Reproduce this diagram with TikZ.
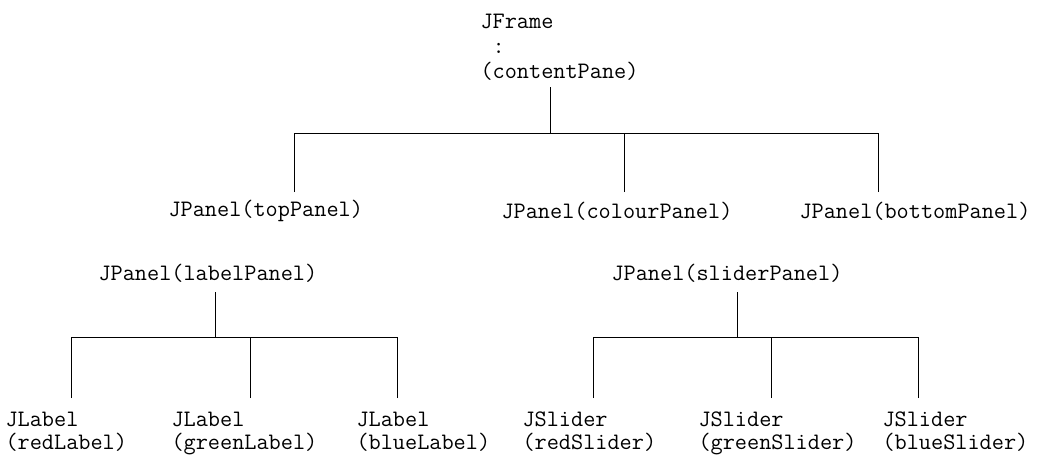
\documentclass[tikz,border=0pt]{standalone}
\usepackage{fontspec}
\usepackage{tikz}
\usetikzlibrary{calc,positioning}

\begin{document}
\begin{tikzpicture}[x=0.5pt,y=-0.5pt,line width=0.5pt,
  cls/.style={font=\ttfamily\fontsize{11.8}{12.5}\selectfont,inner sep=0pt,anchor=west,align=left},
  leaf/.style={cls,font=\ttfamily\fontsize{11.8}{11.5}\selectfont,anchor=base west}]
  \useasboundingbox (0,0) rectangle (1042,456);
  % containers
  \node[cls] (frame) at (480,47) {JFrame\\\ :\\(contentPane)};
  \node[cls] (topP) at (168,211) {JPanel(topPanel)};
  \node[cls] (colourP) at (501,211) {JPanel(colourPanel)};
  \node[cls] (bottomP) at (799,211) {JPanel(bottomPanel)};
  \node[cls] (labelP) at (98,273) {JPanel(labelPanel)};
  \node[cls] (sliderP) at (611,273) {JPanel(sliderPanel)};
  % components
  \node[leaf] (redL) at (5,449) {JLabel\\(redLabel)};
  \node[leaf] (greenL) at (171,449) {JLabel\\(greenLabel)};
  \node[leaf] (blueL) at (356,449) {JLabel\\(blueLabel)};
  \node[leaf] (redS) at (522,449) {JSlider\\(redSlider)};
  \node[leaf] (greenS) at (698,449) {JSlider\\(greenSlider)};
  \node[leaf] (blueS) at (882,449) {JSlider\\(blueSlider)};
  % junctions
  \coordinate (frOut) at (550,87);   \coordinate (frJ) at (550,133);
  \coordinate (topIn) at (294,192);  \coordinate (colIn) at (624,192);  \coordinate (botIn) at (878,192);
  \coordinate (lpOut) at (215,292);  \coordinate (lpJ) at (215,337);
  \coordinate (rlIn) at (71,398);    \coordinate (glIn) at (250,398);   \coordinate (blIn) at (397,398);
  \coordinate (spOut) at (737,292);  \coordinate (spJ) at (737,337);
  \coordinate (rsIn) at (593,398);   \coordinate (gsIn) at (771,398);   \coordinate (bsIn) at (918,398);
  % tree lines
  \draw (frOut) -- (frJ);
  \foreach \c in {topIn,colIn,botIn} \draw (\c) |- (frJ);
  \draw (lpOut) -- (lpJ);
  \foreach \c in {rlIn,glIn,blIn} \draw (\c) |- (lpJ);
  \draw (spOut) -- (spJ);
  \foreach \c in {rsIn,gsIn,bsIn} \draw (\c) |- (spJ);
\end{tikzpicture}
\end{document}
